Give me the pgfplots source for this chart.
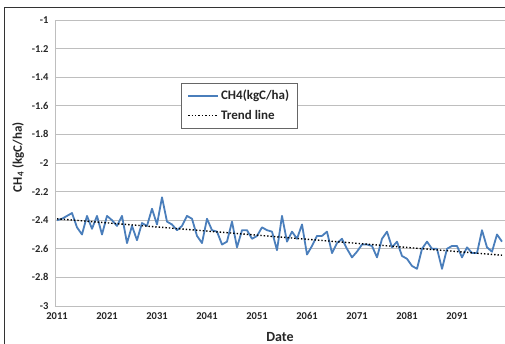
\documentclass[border=0pt]{standalone}
\usepackage{pgfplots}
\pgfplotsset{compat=1.18}
\usepackage{pgfplotstable}
\usepackage{fontspec}
\setmainfont{Carlito}
\definecolor{serblue}{HTML}{4A7EBB}
\definecolor{gridgray}{HTML}{BEBEBE}

% Annual CH4 flux, 2011-2100
\pgfplotstableread{
year ch4
2011 -2.40
2012 -2.39
2013 -2.37
2014 -2.35
2015 -2.45
2016 -2.50
2017 -2.37
2018 -2.46
2019 -2.37
2020 -2.50
2021 -2.37
2022 -2.40
2023 -2.44
2024 -2.37
2025 -2.56
2026 -2.44
2027 -2.54
2028 -2.42
2029 -2.44
2030 -2.32
2031 -2.43
2032 -2.24
2033 -2.41
2034 -2.43
2035 -2.47
2036 -2.44
2037 -2.37
2038 -2.39
2039 -2.51
2040 -2.56
2041 -2.39
2042 -2.47
2043 -2.48
2044 -2.57
2045 -2.55
2046 -2.41
2047 -2.59
2048 -2.47
2049 -2.47
2050 -2.53
2051 -2.51
2052 -2.45
2053 -2.47
2054 -2.48
2055 -2.61
2056 -2.37
2057 -2.55
2058 -2.48
2059 -2.53
2060 -2.43
2061 -2.64
2062 -2.58
2063 -2.51
2064 -2.51
2065 -2.48
2066 -2.63
2067 -2.56
2068 -2.53
2069 -2.60
2070 -2.66
2071 -2.62
2072 -2.57
2073 -2.57
2074 -2.58
2075 -2.66
2076 -2.53
2077 -2.48
2078 -2.59
2079 -2.55
2080 -2.65
2081 -2.67
2082 -2.72
2083 -2.74
2084 -2.60
2085 -2.55
2086 -2.60
2087 -2.60
2088 -2.74
2089 -2.60
2090 -2.58
2091 -2.58
2092 -2.66
2093 -2.59
2094 -2.63
2095 -2.63
2096 -2.47
2097 -2.59
2098 -2.62
2099 -2.50
2100 -2.55
}\methanedata

\begin{document}
\begin{tikzpicture}
\begin{axis}[
  scale only axis,
  width=450pt, height=286pt,
  xmin=2010.6, xmax=2100.6,
  ymin=-3, ymax=-1,
  axis lines*=left,
  axis line style={gridgray, line width=0.8pt},
  ytick={-3,-2.8,...,-1},
  xtick={2011,2021,...,2091},
  ymajorgrids,
  grid style={gridgray, line width=0.8pt},
  tick style={draw=none},
  xticklabel style={font=\bfseries\fontsize{10.5}{12}\selectfont, text=black!85, yshift=-3pt},
  yticklabel style={font=\bfseries\fontsize{10.5}{12}\selectfont, text=black!85, xshift=-3pt},
  /pgf/number format/assume math mode=true,
  x tick label style={/pgf/number format/1000 sep={}},
  y tick label style={/pgf/number format/.cd, fixed, precision=1},
  xlabel={Date},
  xlabel style={font=\bfseries\fontsize{14}{16}\selectfont, text=black!85, at={(axis description cs:0.5,-0.108)}, anchor=center},
  ylabel={CH\textsubscript{4} (kgC/ha)},
  ylabel style={font=\bfseries\fontsize{13}{15}\selectfont, text=black!85, at={(axis description cs:-0.082,0.52)}, anchor=center},
  legend style={at={(axis description cs:0.28,0.780)}, anchor=north west,
    draw=black!60, line width=0.6pt, fill=white,
    font=\bfseries\fontsize{13}{15}\selectfont, text=black!85,
    inner xsep=6pt, inner ysep=5pt, row sep=5pt,
    legend cell align=left},
  legend image code/.code={\draw[#1] (0pt,0pt) -- (30pt,0pt);},
]
\addplot[serblue, line width=1.8pt, line join=round] table[x=year, y=ch4] {\methanedata};
\addlegendentry{CH4(kgC/ha)}
\addplot[black, line width=1.4pt, dotted] coordinates {(2011,-2.39) (2100,-2.645)};
\addlegendentry{Trend line}
\end{axis}
\draw[black!80, line width=1pt] (-50pt,-38pt) -- (-50pt,298pt) -- (450pt,298pt);
\pgfresetboundingbox
\path[use as bounding box] (-55pt,-38pt) rectangle (450pt,306pt);
\end{tikzpicture}
\end{document}
